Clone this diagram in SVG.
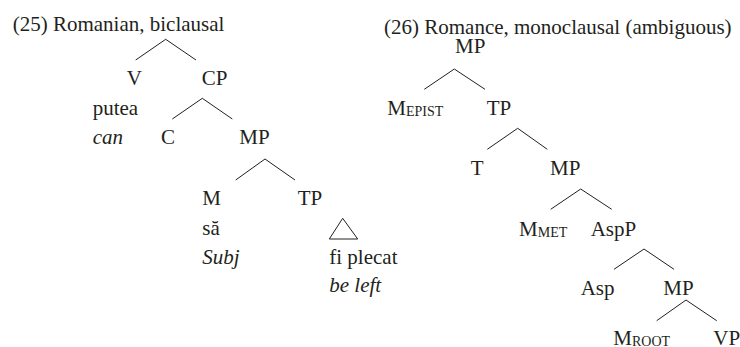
<svg xmlns="http://www.w3.org/2000/svg" width="740" height="347" viewBox="0 0 740 347">
<style>
text{font-family:'Liberation Serif','Tinos','DejaVu Serif',serif;font-size:21px;fill:#231f20}
.it{font-style:italic}
.sub{font-size:14px}
.ln{stroke:#231f20;stroke-width:1;fill:none}
</style>
<rect width="740" height="347" fill="#fff"/>
<g id="title25"><text x="12.7" y="31">(25) Romanian, biclausal</text></g>
<g id="title26"><text x="384" y="34">(26) Romance, monoclausal (ambiguous)</text></g>
<g id="connectors">
<path class="ln" d="M135.7,60 L165.7,39.3 L196,60"/>
<path class="ln" d="M172.3,119 L202.3,98.3 L232.3,119"/>
<path class="ln" d="M235.7,180 L265,159 L295,180"/>
<path class="ln" d="M424.3,89.3 L454.3,69 L485,89.3"/>
<path class="ln" d="M487.3,149.3 L517.7,128.3 L547.3,149.3"/>
<path class="ln" d="M550.7,209.3 L580.7,189 L611.7,209.3"/>
<path class="ln" d="M614,269.3 L644,249 L674,269.3"/>
<path class="ln" d="M656.7,320.7 L686,300 L716.7,320.7"/>
</g>
<g id="l-V"><text x="126.7" y="85">V</text><text x="92.7" y="115">putea</text><text class="it" x="92.7" y="144">can</text></g>
<g id="l-CP"><text x="201.7" y="85">CP</text></g>
<g id="l-C"><text x="161" y="144">C</text></g>
<g id="l-MP"><text x="239.3" y="144">MP</text></g>
<g id="l-M"><text x="202.3" y="205">M</text><text x="202.3" y="235">să</text><text class="it" x="202.3" y="264">Subj</text></g>
<g id="l-TP"><text x="297.7" y="205">TP</text>
<path class="ln" d="M329.3,239 L342.7,218.3 L357.7,239 Z" stroke-width="1.2"/>
<text x="329.3" y="264">fi plecat</text><text class="it" x="329.3" y="292">be left</text></g>
<g id="r-MP1"><text x="455" y="53.3">MP</text></g>
<g id="r-Mepist"><text x="387.3" y="115">M<tspan class="sub" dy="1">EPIST</tspan></text></g>
<g id="r-TP"><text x="486.7" y="115">TP</text></g>
<g id="r-T"><text x="470.7" y="175">T</text></g>
<g id="r-MP2"><text x="550" y="175">MP</text></g>
<g id="r-Mmet"><text x="519" y="236">M<tspan class="sub" dy="1">MET</tspan></text></g>
<g id="r-AspP"><text x="590.7" y="236">AspP</text></g>
<g id="r-Asp"><text x="580.7" y="295">Asp</text></g>
<g id="r-MP3"><text x="663.3" y="295">MP</text></g>
<g id="r-Mroot"><text x="613.3" y="345">M<tspan class="sub" dy="1">ROOT</tspan></text></g>
<g id="r-VP"><text x="713.3" y="345">VP</text></g>
</svg>
